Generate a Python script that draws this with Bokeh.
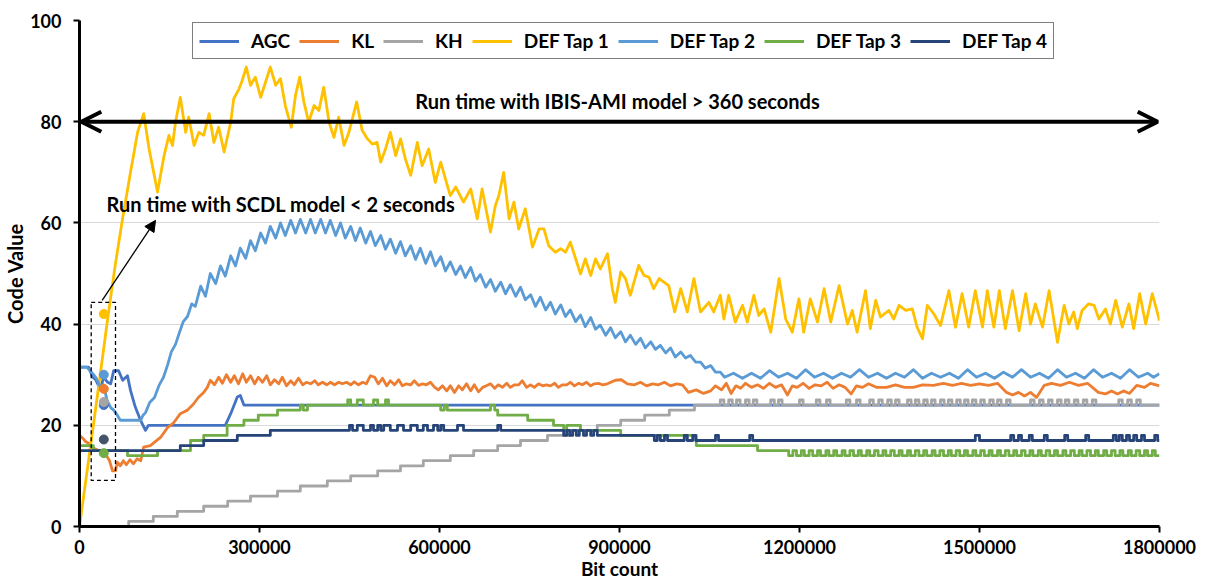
from bokeh.plotting import figure
from bokeh.models import Range1d, FixedTicker, Legend, LegendItem, Label, Arrow, OpenHead, NormalHead
from bokeh.embed import file_html
from bokeh.resources import INLINE

# ---------------- data ----------------
x_ticks = [0, 300000, 600000, 900000, 1200000, 1500000, 1800000]
x_tick_labels = ["0", "300000", "600000", "900000", "1200000", "1500000", "1800000"]
y_ticks = [0, 20, 40, 60, 80, 100]

series_names = ["AGC", "KL", "KH", "DEF Tap 1", "DEF Tap 2", "DEF Tap 3", "DEF Tap 4"]
series_colors = ["#4472C4", "#ED7D31", "#A5A5A5", "#FFC000", "#5B9BD5", "#70AD47", "#264478"]

agc = [(0, 31.5), (15000, 31.5), (22000, 29.5), (27000, 29), (35000, 27), (40000, 29.5), (47000, 28.5),
       (52000, 28.2), (57000, 30.8), (65000, 30.8), (72000, 28.9), (80000, 29.8), (85000, 26.9),
       (93000, 23.6), (102000, 20.9), (110000, 19.0), (115000, 20), (243000, 20), (252000, 22.3),
       (263000, 25.6), (268000, 25.9), (274000, 24), (1800000, 24)]

kl = [(0, 18), (5000, 17.5), (10000, 16.8), (17000, 16.3), (23000, 15.5), (32000, 15), (40000, 15),
      (45000, 14), (50000, 13), (55000, 11), (60000, 11), (63000, 12.7), (68000, 12), (73000, 13),
      (78000, 12.2), (84000, 13.2), (90000, 12.4), (96000, 13.4), (102000, 13), (107000, 15.7),
      (118000, 16), (135000, 17.6), (147000, 19.6), (157000, 20.5), (168000, 22.3), (180000, 23),
      (190000, 24.2), (198000, 25.5), (207000, 26.5), (213000, 27.5),
      (218000, 28.9), (225000, 28), (232000, 29.5), (238000, 28.3), (245000, 30), (252000, 28.5),
      (258000, 29.8), (265000, 28.2), (272000, 30.2), (278000, 28.5), (285000, 29.8), (292000, 28.2),
      (298000, 29.5), (305000, 28.5), (312000, 29.8), (318000, 28), (325000, 29), (332000, 28.2),
      (338000, 29.5), (345000, 27.8), (352000, 28.8), (358000, 28), (365000, 29.3), (372000, 28),
      (378000, 28.5), (385000, 28.2), (392000, 28.8), (398000, 28), (405000, 28.5), (412000, 28),
      (418000, 28.5), (425000, 28), (432000, 28.5), (438000, 28.2), (445000, 28.5), (452000, 28),
      (458000, 28.6), (465000, 28), (472000, 28.5), (478000, 28.2), (485000, 29.8), (492000, 29.5),
      (498000, 28.2), (505000, 29.3), (512000, 27.8), (518000, 28.8), (525000, 28), (532000, 29),
      (538000, 27.8), (545000, 28.2), (552000, 28), (558000, 28.8), (565000, 27.9), (572000, 28.2),
      (578000, 28), (585000, 28.5), (592000, 27.5), (598000, 27), (605000, 27.8), (612000, 26.8),
      (618000, 27.8), (625000, 26.5), (632000, 27.8), (638000, 27), (645000, 28.2), (652000, 26.8),
      (658000, 28), (665000, 26.6), (672000, 27.5), (678000, 27.8), (685000, 28.2), (692000, 27.3),
      (698000, 28), (705000, 27.5), (712000, 28.3), (718000, 27.5), (725000, 28), (732000, 28),
      (738000, 28.8), (745000, 27.5), (752000, 28), (758000, 27.5), (765000, 28.2), (772000, 27.8),
      (778000, 28), (785000, 27.8), (792000, 28.3), (798000, 27.5), (805000, 28), (812000, 28),
      (818000, 28.5), (825000, 27.8), (832000, 28.3), (838000, 28), (845000, 28.5), (852000, 27.8),
      (858000, 28.2), (865000, 28.3), (872000, 28), (880000, 28.2), (893000, 28.9), (903000, 29),
      (913000, 28.2), (925000, 28), (935000, 28.5), (945000, 27.8), (955000, 28.2), (965000, 28),
      (975000, 28.5), (985000, 27.8), (995000, 28.2), (1005000, 28), (1015000, 26.5), (1028000, 27),
      (1040000, 26.3), (1052000, 26.8), (1060000, 27.8), (1070000, 27), (1078000, 28.3), (1086000, 26.3),
      (1094000, 27.8), (1102000, 27.3), (1110000, 28.3), (1120000, 27.5), (1130000, 28), (1140000, 27.3),
      (1150000, 28.3), (1160000, 27.5), (1170000, 28), (1180000, 26), (1188000, 27.8), (1196000, 27.5),
      (1206000, 28.3), (1216000, 27.3), (1226000, 28), (1236000, 27.8), (1246000, 28.5), (1256000, 27.3),
      (1266000, 28), (1276000, 27.5), (1286000, 26.2), (1295000, 27.8), (1305000, 27.5), (1315000, 28.2),
      (1328000, 27.5), (1345000, 27.5), (1360000, 28), (1375000, 27.5), (1390000, 27.5), (1405000, 28),
      (1423000, 27.9), (1440000, 28.3), (1455000, 27.9), (1470000, 28.3), (1485000, 27.9), (1500000, 28.2),
      (1515000, 27.9), (1530000, 28.3), (1545000, 26.5), (1555000, 26), (1565000, 26.5), (1575000, 25.8),
      (1585000, 26.5), (1595000, 25.5), (1608000, 27.9), (1620000, 28.3), (1635000, 27.9), (1650000, 28.5),
      (1665000, 27.9), (1680000, 28.3), (1698000, 26.5), (1710000, 26.2), (1720000, 26.8), (1730000, 26.2),
      (1740000, 26.8), (1750000, 26.3), (1762000, 27.9), (1775000, 27.5), (1785000, 28.3), (1800000, 27.8)]

kh_steps = [(0, 0), (82000, 1), (123000, 2), (163000, 3), (207000, 4), (247000, 5), (285000, 6), (330000, 7),
            (368000, 8), (413000, 9), (452000, 10), (497000, 11), (535000, 12), (573000, 13), (618000, 14),
            (657000, 15), (697000, 16), (735000, 17), (780000, 18), (818000, 19), (863000, 20), (902000, 21),
            (942000, 22), (983000, 23), (1025000, 24),
            (1068000, 25), (1074000, 24), (1082000, 25), (1088000, 24), (1095000, 25), (1101000, 24),
            (1110000, 25), (1116000, 24), (1123000, 25), (1129000, 24), (1152000, 25), (1158000, 24),
            (1165000, 25), (1171000, 24), (1200000, 25), (1206000, 24), (1228000, 25), (1234000, 24),
            (1245000, 25), (1251000, 24), (1278000, 25), (1284000, 24), (1295000, 25), (1301000, 24),
            (1317000, 25), (1323000, 24), (1332000, 25), (1338000, 24), (1347000, 25), (1353000, 24),
            (1360000, 25), (1366000, 24), (1380000, 25), (1386000, 24), (1393000, 25), (1399000, 24),
            (1407000, 25), (1413000, 24), (1420000, 25), (1426000, 24), (1435000, 25), (1441000, 24),
            (1448000, 25), (1454000, 24), (1462000, 25), (1468000, 24), (1475000, 25), (1481000, 24),
            (1488000, 25), (1494000, 24), (1502000, 25), (1508000, 24), (1517000, 25), (1523000, 24),
            (1530000, 25), (1536000, 24), (1545000, 25), (1551000, 24), (1585000, 25), (1591000, 24),
            (1600000, 25), (1606000, 24), (1615000, 25), (1621000, 24), (1630000, 25), (1636000, 24),
            (1643000, 25), (1649000, 24), (1658000, 25), (1664000, 24), (1673000, 25), (1679000, 24),
            (1688000, 25), (1694000, 24), (1732000, 25), (1738000, 24), (1747000, 25), (1753000, 24),
            (1762000, 25), (1768000, 24)]

tap1 = [(0, 0), (15000, 13), (30000, 26), (48000, 42), (60000, 52), (72000, 61), (85000, 70), (97000, 78),
        (107000, 81.6), (116000, 74.6), (130000, 66.1), (141000, 73.3), (149000, 77.3), (155000, 75.3),
        (160000, 79.9), (168000, 84.8), (177000, 77.9), (182000, 80.9), (191000, 75.3), (199000, 77.9),
        (207000, 77.3), (216000, 81.6), (224000, 75.9), (232000, 78.9), (241000, 74.0), (252000, 79.9),
        (257000, 84.5), (266000, 86.5), (271000, 88.1), (278000, 90.8), (285000, 87.2), (293000, 88.8),
        (302000, 84.8), (310000, 87.8), (318000, 90.8), (327000, 87.2), (335000, 88.5), (343000, 83.2),
        (353000, 78.9), (360000, 85.2), (367000, 88.8), (374000, 83.9), (382000, 79.9), (391000, 83.2),
        (399000, 82.2), (407000, 86.8), (416000, 79.9), (424000, 76.9), (432000, 80.9), (441000, 75.3),
        (449000, 77.9), (462000, 83.9), (471000, 78.3), (480000, 76.6), (488000, 75.6), (496000, 75.9),
        (502000, 72.0), (510000, 74.6), (518000, 77.9), (527000, 73.3), (535000, 76.6), (543000, 72.7),
        (552000, 69.4), (563000, 75.9), (571000, 71.3), (582000, 74.6), (593000, 68.0), (602000, 72.0),
        (613000, 67.4), (618000, 65.4), (627000, 67.1), (640000, 64.1), (652000, 66.7), (663000, 60.8),
        (671000, 66.7), (685000, 58.2), (693000, 63.4), (699000, 65.4), (707000, 70.0), (716000, 60.8),
        (724000, 64.1), (732000, 58.8), (743000, 62.8), (755000, 55.2), (766000, 58.8), (774000, 58.8),
        (782000, 55.5), (793000, 54.2), (802000, 54.9), (810000, 54.2), (818000, 56.2), (827000, 52.9),
        (835000, 49.9), (843000, 52.9), (852000, 49.6), (860000, 52.9), (868000, 50.9), (880000, 53.9),
        (888000, 47.0), (893000, 44.3), (902000, 50.3), (910000, 49.0), (918000, 45.7), (932000, 51.6),
        (941000, 49.6), (949000, 49.3), (957000, 47.0), (966000, 49.0), (974000, 48.3), (982000, 47.6),
        (992000, 42.4), (1002000, 47.0), (1013000, 42.4), (1024000, 49.0), (1035000, 42.4), (1049000, 44.3),
        (1057000, 42.4), (1068000, 45.7), (1074000, 41.0), (1082000, 45.7), (1093000, 40.4), (1105000, 43.7),
        (1113000, 40.4), (1124000, 45.7), (1132000, 41.7), (1141000, 43.0), (1152000, 38.4), (1166000, 49.0),
        (1177000, 41.0), (1188000, 38.4), (1199000, 45.0), (1207000, 38.4), (1218000, 45.0), (1230000, 40.4),
        (1241000, 47.0), (1252000, 40.4), (1266000, 47.6), (1280000, 40.0), (1288000, 42.7), (1296000, 38.4),
        (1310000, 46.6), (1318000, 39.1), (1327000, 44.7), (1335000, 41.4), (1349000, 42.7), (1357000, 41.0),
        (1366000, 43.7), (1377000, 42.7), (1388000, 43.0), (1396000, 39.4), (1405000, 37.1), (1413000, 43.7),
        (1424000, 42.0), (1435000, 39.7), (1449000, 46.6), (1460000, 39.4), (1471000, 46.0), (1482000, 39.4),
        (1493000, 46.6), (1505000, 39.4), (1513000, 46.6), (1524000, 39.4), (1533000, 46.6), (1543000, 39.1),
        (1555000, 46.6), (1566000, 38.7), (1577000, 46.0), (1585000, 40.0), (1593000, 44.0), (1605000, 39.4),
        (1616000, 46.6), (1630000, 36.4), (1641000, 43.7), (1649000, 40.0), (1657000, 42.4), (1663000, 39.1),
        (1671000, 42.7), (1682000, 44.0), (1691000, 43.7), (1699000, 41.0), (1710000, 43.0), (1718000, 40.0),
        (1727000, 44.7), (1738000, 39.4), (1749000, 44.0), (1757000, 39.1), (1767000, 46.0), (1777000, 40.0),
        (1788000, 46.0), (1800000, 40.7)]

tap2 = [(0, 31.5), (12000, 31.5), (20000, 30.5), (28000, 29.3), (35000, 27.5), (40000, 28), (46000, 24.9),
        (52000, 23.5), (57000, 23), (63000, 22), (68000, 21), (102000, 21), (106000, 22), (110000, 22.5),
        (117000, 24.5), (125000, 25.5), (133000, 28), (140000, 29.5), (147000, 32), (153000, 34.5),
        (160000, 36), (167000, 38.5), (173000, 40.5), (180000, 41.5), (187000, 44), (193000, 43.5),
        (202000, 47.5), (210000, 45.5), (218000, 50), (227000, 48), (235000, 51.5), (243000, 49.5),
        (252000, 53.5), (260000, 51.5), (268000, 55), (277000, 53), (285000, 56.5), (293000, 54.5),
        (302000, 58), (310000, 56), (318000, 59.3), (327000, 57), (335000, 60), (343000, 57.5),
        (352000, 60.5), (360000, 58), (368000, 60.7), (377000, 58), (385000, 60.7), (393000, 58),
        (402000, 60.7), (410000, 58), (418000, 60.5), (427000, 57.5), (435000, 60), (443000, 57),
        (452000, 59.3), (460000, 56.5), (468000, 59), (477000, 56), (485000, 58.3), (493000, 55.5),
        (502000, 57.5), (510000, 54.8), (518000, 56.8), (527000, 54), (535000, 56.3), (543000, 53.5),
        (552000, 55.5), (560000, 52.8), (568000, 55), (577000, 52), (585000, 54.3), (593000, 51.5),
        (602000, 53.3), (610000, 50.5), (618000, 52.3), (627000, 49.8), (635000, 51.5), (643000, 49.2),
        (652000, 51.2), (660000, 48.5), (668000, 49.8), (677000, 47.3), (685000, 48.8), (693000, 46.5),
        (702000, 48.3), (710000, 46), (718000, 47.8), (727000, 45.5), (735000, 47.3), (743000, 44.8),
        (752000, 45.8), (760000, 43.5), (768000, 45.3), (777000, 42.8), (785000, 44.3), (793000, 42),
        (802000, 43.8), (810000, 41.5), (818000, 42.8), (827000, 40.5), (835000, 41.8), (843000, 39.5),
        (852000, 41.3), (860000, 39), (868000, 39.8), (877000, 37.8), (885000, 39.3), (893000, 37.3),
        (902000, 38.5), (910000, 36.5), (918000, 37.8), (927000, 36), (935000, 37.2), (943000, 35.3),
        (952000, 36.5), (960000, 35), (968000, 35.8), (977000, 34.3), (985000, 35.3), (993000, 33.5),
        (1002000, 34.5), (1010000, 33.3), (1018000, 33.8), (1027000, 32.5), (1035000, 32.5), (1043000, 31.3),
        (1052000, 31.8), (1060000, 30.5), (1068000, 30.5), (1075000, 29.5), (1090000, 30.3), (1105000, 29.3),
        (1120000, 30.3), (1135000, 29.3), (1150000, 30.8), (1165000, 29.5), (1180000, 30.3), (1195000, 29.3),
        (1210000, 31), (1225000, 29.5), (1240000, 30.3), (1255000, 29.3), (1270000, 30.3), (1285000, 29.5),
        (1300000, 31), (1315000, 29.5), (1330000, 30.3), (1345000, 29.3), (1360000, 30.3), (1375000, 29.5),
        (1390000, 31), (1405000, 29.3), (1420000, 30.3), (1435000, 29.5), (1450000, 30.3), (1465000, 29.3),
        (1480000, 31), (1495000, 29.5), (1510000, 30.3), (1525000, 29.3), (1540000, 30.5), (1555000, 29.5),
        (1570000, 31), (1585000, 29.5), (1600000, 30.3), (1615000, 29.3), (1630000, 31), (1645000, 29.5),
        (1660000, 30.3), (1675000, 29.3), (1690000, 31), (1705000, 29.5), (1720000, 30.3), (1735000, 29.3),
        (1750000, 31), (1765000, 29.5), (1780000, 30.3), (1790000, 29.5), (1800000, 30.2)]

tap3_steps = [(0, 16), (23000, 15), (80000, 14), (130000, 15), (185000, 17), (207000, 18), (246000, 20),
              (274000, 21), (298000, 22), (330000, 23), (368000, 24), (373000, 23), (380000, 24),
              (447000, 25), (452000, 24), (463000, 25), (473000, 24), (490000, 25), (497000, 24),
              (510000, 25), (515000, 24), (602000, 23), (608000, 24), (613000, 23), (685000, 24),
              (692000, 23), (697000, 22), (747000, 21), (790000, 20), (807000, 19), (812000, 20),
              (835000, 19), (902000, 18), (1028000, 16), (1130000, 15), (1182000, 14),
              (1189000, 15), (1195000, 14), (1203000, 15), (1208000, 14), (1216000, 15), (1222000, 14),
              (1230000, 15), (1235000, 14), (1244000, 15), (1249000, 14), (1257000, 15), (1262000, 14),
              (1271000, 15), (1276000, 14), (1284000, 15), (1290000, 14), (1298000, 15), (1303000, 14),
              (1312000, 15), (1317000, 14), (1325000, 15), (1331000, 14), (1339000, 15), (1344000, 14),
              (1352000, 15), (1358000, 14), (1366000, 15), (1371000, 14), (1380000, 15), (1385000, 14),
              (1393000, 15), (1399000, 14), (1407000, 15), (1412000, 14), (1421000, 15), (1426000, 14),
              (1434000, 15), (1440000, 14), (1448000, 15), (1453000, 14), (1461000, 15), (1467000, 14),
              (1475000, 15), (1480000, 14), (1489000, 15), (1494000, 14), (1502000, 15), (1508000, 14),
              (1516000, 15), (1521000, 14), (1530000, 15), (1535000, 14), (1543000, 15), (1549000, 14),
              (1557000, 15), (1562000, 14), (1570000, 15), (1576000, 14), (1584000, 15), (1589000, 14),
              (1598000, 15), (1603000, 14), (1611000, 15), (1617000, 14), (1625000, 15), (1630000, 14),
              (1639000, 15), (1644000, 14), (1652000, 15), (1658000, 14), (1666000, 15), (1671000, 14),
              (1679000, 15), (1685000, 14), (1693000, 15), (1698000, 14), (1707000, 15), (1712000, 14),
              (1720000, 15), (1726000, 14), (1734000, 15), (1739000, 14), (1748000, 15), (1753000, 14),
              (1761000, 15), (1767000, 14), (1775000, 15), (1780000, 14), (1788000, 15), (1793000, 14)]

tap4_steps = [(0, 15), (168000, 16), (207000, 17), (263000, 18), (318000, 19), (450000, 20), (455000, 19),
              (463000, 20), (473000, 19), (485000, 20), (490000, 19), (497000, 20), (502000, 19),
              (507000, 20), (518000, 19), (530000, 20), (540000, 19), (552000, 20), (563000, 19),
              (573000, 20), (580000, 19), (590000, 20), (597000, 19), (602000, 20), (607000, 19),
              (630000, 20), (640000, 19), (697000, 20), (702000, 19), (807000, 18), (812000, 19),
              (817000, 18), (822000, 19), (828000, 18), (833000, 19), (840000, 18), (845000, 19),
              (852000, 18), (857000, 19), (863000, 18), (958000, 17), (963000, 18), (968000, 17),
              (975000, 18), (980000, 17), (1008000, 18), (1013000, 17), (1022000, 18), (1027000, 17),
              (1060000, 18), (1065000, 17), (1117000, 18), (1122000, 17), (1493000, 18), (1500000, 17),
              (1552000, 18), (1557000, 17), (1565000, 18), (1570000, 17), (1583000, 18), (1588000, 17),
              (1608000, 18), (1613000, 17), (1642000, 18), (1647000, 17), (1677000, 18), (1682000, 17),
              (1723000, 18), (1728000, 17), (1733000, 18), (1738000, 17), (1745000, 18), (1750000, 17),
              (1757000, 18), (1762000, 17), (1770000, 18), (1775000, 17), (1792000, 18), (1797000, 17)]

# SCDL model results (single points)
scdl_bit = 40500
scdl_values = [24.0, 27.2, 24.6, 42.0, 30.0, 14.5, 17.2]
scdl_colors = ["#4472C4", "#ED7D31", "#A5A5A5", "#FFC000", "#5B9BD5", "#70AD47", "#44546A"]

# annotation anchors (data units)
box_x = [19500, 60000]
box_y = [9.1, 44.3]
scdl_arrow = [(37800, 44.7), (126700, 60.5)]
ibis_arrow_y = 80
ibis_arrow_x = [3000, 1797000]
scdl_text = "Run time with SCDL model < 2 seconds"
scdl_text_pos = (45000, 63.8)
ibis_text = "Run time with IBIS-AMI model > 360 seconds"
ibis_text_pos = (897000, 84.0)

X_END = 1800000
FONT = "Lato"


def unzip(pairs):
    return [a for a, _ in pairs], [b for _, b in pairs]


def staircase(steps, x_end=X_END):
    xs, ys = [], []
    for i, (x, y) in enumerate(steps):
        if i > 0:
            xs.append(x)
            ys.append(steps[i - 1][1])
        xs.append(x)
        ys.append(y)
    xs.append(x_end)
    ys.append(steps[-1][1])
    return xs, ys


p = figure(frame_width=1080, frame_height=506, output_backend="svg", toolbar_location=None,
           x_range=Range1d(0, X_END), y_range=Range1d(0, 100),
           min_border_left=79, min_border_right=44, min_border_top=20, min_border_bottom=58)
p.outline_line_color = None
p.background_fill_color = "white"
p.border_fill_color = "white"

# axes
for ax in (p.xaxis[0], p.yaxis[0]):
    ax.axis_line_color = "black"
    ax.axis_line_width = 3
    ax.major_tick_line_color = "black"
    ax.major_tick_line_width = 2
    ax.major_tick_out = 6
    ax.major_tick_in = 0
    ax.minor_tick_line_color = None
    ax.major_label_text_font = FONT
    ax.major_label_text_font_style = "bold"
    ax.major_label_text_font_size = "18px"
    ax.major_label_text_color = "black"
    ax.axis_label_text_font = FONT
    ax.axis_label_text_font_style = "bold"
    ax.axis_label_text_color = "black"

p.xaxis.ticker = FixedTicker(ticks=x_ticks)
p.xaxis.major_label_overrides = {t: s for t, s in zip(x_ticks, x_tick_labels)}
p.yaxis.ticker = FixedTicker(ticks=y_ticks)
p.xaxis.axis_label = "Bit count"
p.yaxis.axis_label = "Code Value"
p.xaxis.axis_label_text_font_size = "19px"
p.yaxis.axis_label_text_font_size = "20px"
p.xaxis.major_label_standoff = 7
p.yaxis.major_label_standoff = 12
p.xaxis.axis_label_standoff = 0
p.yaxis.axis_label_standoff = 0

p.xgrid.grid_line_color = None
p.ygrid.grid_line_color = "#D9D9D9"
p.ygrid.grid_line_width = 1
p.ygrid.ticker = FixedTicker(ticks=y_ticks)

# series
line_data = [
    unzip(agc),
    unzip(kl),
    staircase(kh_steps),
    unzip(tap1),
    unzip(tap2),
    staircase(tap3_steps),
    staircase(tap4_steps),
]
renderers = []
for (xs, ys), color in zip(line_data, series_colors):
    r = p.line(xs, ys, line_color=color, line_width=2.8, line_join="round")
    renderers.append(r)

# SCDL dots
p.scatter([scdl_bit] * len(scdl_values), scdl_values, size=9, fill_color=scdl_colors,
          line_color=scdl_colors, marker="circle")

# dashed box around dots
p.quad(left=[box_x[0]], right=[box_x[1]], bottom=[box_y[0]], top=[box_y[1]],
       fill_color=None, line_color="black", line_width=1.3, line_dash="4 3")

# SCDL arrow
p.add_layout(Arrow(x_start=scdl_arrow[0][0], y_start=scdl_arrow[0][1],
                   x_end=scdl_arrow[1][0], y_end=scdl_arrow[1][1],
                   line_color="black", line_width=1.3,
                   end=NormalHead(size=11, fill_color="black", line_color="black")))

# IBIS double arrow
p.add_layout(Arrow(x_start=ibis_arrow_x[0], y_start=ibis_arrow_y, x_end=ibis_arrow_x[1], y_end=ibis_arrow_y,
                   line_color="black", line_width=4,
                   start=OpenHead(size=20, line_width=4, line_color="black"),
                   end=OpenHead(size=20, line_width=4, line_color="black")))

p.add_layout(Label(x=scdl_text_pos[0], y=scdl_text_pos[1], text=scdl_text, text_font=FONT,
                   text_font_style="bold", text_font_size="20px", text_baseline="middle",
                   text_align="left", text_color="black"))
p.add_layout(Label(x=ibis_text_pos[0], y=ibis_text_pos[1], text=ibis_text, text_font=FONT,
                   text_font_style="bold", text_font_size="20px", text_baseline="middle",
                   text_align="center", text_color="black"))

legend = Legend(items=[LegendItem(label=n, renderers=[r]) for n, r in zip(series_names, renderers)],
                orientation="horizontal", location=(113, 467),
                glyph_width=40, glyph_height=18, label_standoff=12, spacing=9, padding=6, margin=0,
                border_line_color="black", border_line_width=1, background_fill_color="white",
                background_fill_alpha=1, label_text_font=FONT, label_text_font_style="bold",
                label_text_font_size="19px", label_text_color="black")
p.add_layout(legend)

open("out.html", "w").write(file_html(p, INLINE))
